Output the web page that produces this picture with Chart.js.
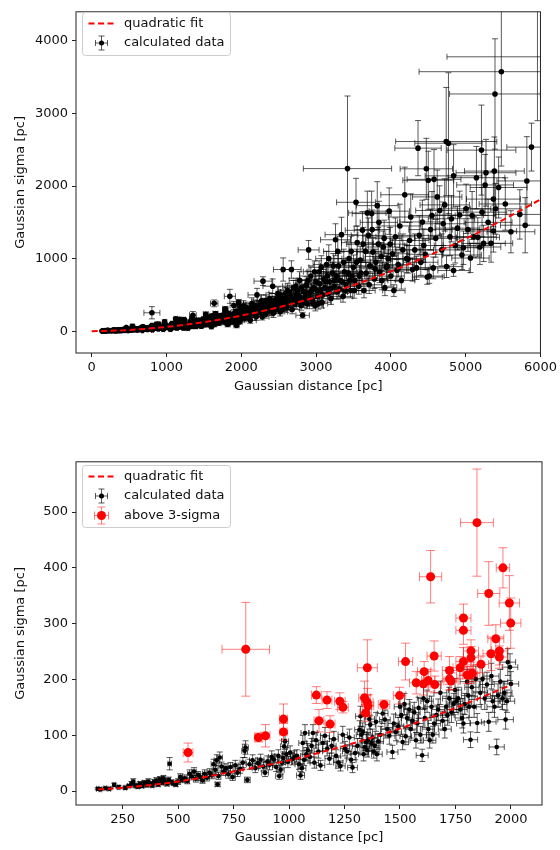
<!DOCTYPE html>
<html lang="en">
<head>
<meta charset="UTF-8">
<title>Gaussian sigma vs distance</title>
<script src="https://cdn.jsdelivr.net/npm/chart.js"></script>
<style>
  body { margin: 0; background: #fff; }
  .panel { position: absolute; left: 0; width: 560px; height: 400px; }
  #topPanel { top: 0; }
  #bottomPanel { top: 450px; }
</style>
</head>
<body>
<div class="panel" id="topPanel"><canvas id="fullChart" width="560" height="400"></canvas></div>
<div class="panel" id="bottomPanel"><canvas id="nearChart" width="560" height="400"></canvas></div>
<script>
// [distance, sigma, distance error, sigma error] in pc
const nearBlack = [
  [138,4,6,2],[150,3,6,2],[172,5,6,2],[190,4,6,2],[212,11,6,3],[232,7,6,3],[262,6,6,3],[278,9,6,3],
  [290,13,7,4],[298,17,7,5],[308,10,7,4],[318,8,7,3],[328,13,7,4],[338,9,7,3],[348,15,7,4],[358,11,7,4],
  [366,17,7,5],[375,13,7,4],[384,10,7,3],[392,16,7,5],[402,19,8,5],[410,12,8,4],[418,21,8,5],[426,15,8,4],
  [434,23,8,5],[442,17,8,5],[450,13,8,4],[458,20,8,5],[462,49,8,11],[470,16,8,4],[480,14,8,4],[490,12,8,4],
  [500,17,9,5],[510,25,9,6],[520,20,9,5],[530,23,9,6],[542,18,9,5],[552,31,9,7],[562,26,10,6],[572,35,10,7],
  [580,22,10,6],[590,29,10,6],[600,25,10,6],[610,19,10,5],[620,31,10,7],[630,24,11,6],[642,33,11,7],[652,28,11,6],
  [660,48,11,9],[668,38,11,8],[674,55,11,10],[678,12,11,4],[682,27,11,6],[688,60,12,10],[696,44,12,8],[706,35,12,7],
  [716,41,12,8],[726,30,12,7],[736,43,12,8],[746,25,12,6],[758,46,13,9],[768,33,13,7],[780,40,13,8],[792,51,13,9],
  [800,72,13,12],[804,78,13,12],[812,20,13,5],[822,48,14,9],[836,55,14,10],[848,41,14,8],[860,50,14,9],[872,56,15,10],
  [884,44,15,8],[892,33,15,7],[902,53,15,10],[912,47,15,9],[922,61,15,11],[932,56,16,10],[942,43,16,8],[952,63,16,11],
  [956,27,16,6],[962,38,16,8],[968,51,16,10],[974,59,16,11],[978,80,16,13],[982,89,16,14],[988,66,17,12],[995,52,17,10]
];

const midBlack = [
  [1005,69,17,12],[1015,57,17,10],[1025,61,17,11],[1035,63,17,11],[1045,48,18,9],[1052,28,18,7],[1058,41,18,8],[1062,86,18,14],
  [1068,56,18,10],[1072,104,18,15],[1078,66,18,12],[1085,73,18,12],[1094,61,19,11],[1102,81,19,13],[1108,104,19,15],[1114,51,19,10],
  [1122,91,19,14],[1132,71,19,12],[1142,46,19,9],[1152,86,20,14],[1162,99,20,15],[1172,76,20,13],[1182,58,20,10],[1192,81,20,13],
  [1202,93,20,14],[1212,63,21,11],[1222,51,21,10],[1232,45,21,9],[1242,101,21,15],[1252,76,21,13],[1262,71,21,12],[1272,96,22,15],
  [1280,56,22,10],[1286,42,22,9],[1298,68,22,12],[1308,81,22,13],[1318,110,22,16],[1322,134,22,18],[1326,101,23,15],[1332,106,23,16],
  [1336,66,23,12],[1342,79,23,13],[1348,88,23,14],[1352,73,23,12],[1356,91,23,14],[1362,129,23,18],[1366,119,23,17],[1372,86,23,14],
  [1376,96,23,15],[1382,71,24,12],[1386,81,24,13],[1392,124,24,17],[1396,66,24,12],[1402,89,24,14],[1412,101,24,15],[1422,139,24,18],
  [1432,128,24,17],[1442,111,25,16],[1452,99,25,15],[1466,70,25,12],[1472,121,25,17],[1482,106,25,16],[1492,116,25,16],[1500,151,26,19],
  [1506,136,26,18],[1512,88,26,14],[1520,156,26,19],[1526,98,26,15],[1532,131,26,17],[1542,146,26,18],[1548,111,26,16],[1556,126,27,17],
  [1564,141,27,18],[1572,91,27,14],[1578,121,27,17],[1584,149,27,19],[1592,101,27,15],[1600,64,27,11],[1606,166,28,20],[1612,131,28,17],
  [1622,161,28,20],[1628,111,28,16],[1634,91,28,14],[1642,151,28,19],[1648,101,28,15],[1654,121,29,17],[1664,136,29,18],[1672,146,29,19],
  [1682,176,29,21],[1692,126,29,17],[1702,111,29,16],[1708,151,30,19],[1714,136,30,18],[1722,166,30,20],[1732,141,30,18],[1742,156,30,19],
  [1748,181,30,21],[1754,161,30,20],[1762,166,31,20],[1772,146,31,19],[1780,131,31,18],[1786,121,31,17],[1792,156,31,19],[1802,196,31,22],
  [1808,171,31,21],[1812,151,32,19],[1818,92,32,14],[1824,186,32,22],[1834,151,32,19],[1842,201,32,23],[1848,122,32,17],[1862,176,33,21],
  [1872,201,33,23],[1882,166,33,20],[1892,191,33,22],[1900,124,33,17],[1912,206,34,23],[1918,161,34,20],[1926,151,34,19],[1936,79,34,14],
  [1942,171,34,21],[1952,196,34,22],[1962,166,35,20],[1970,176,35,21],[1976,128,35,17],[1982,161,35,20],[1986,231,35,24],[1996,222,35,24],
  [2000,192,35,22]
];

const redPoints = [
  [805,254,107,84],[545,69,22,17],[862,96,16,8],[894,99,20,20],[975,129,18,27],[975,106,16,15],[1123,172,22,15],
  [1135,126,22,20],[1171,163,22,15],[1185,120,22,15],[1229,161,24,15],[1243,150,24,10],[1353,221,45,50],[1340,167,26,30],
  [1353,159,26,25],[1356,153,26,20],[1345,140,26,15],[1428,155,26,8],[1498,171,28,15],[1525,232,32,33],[1573,194,30,20],
  [1609,214,30,18],[1606,192,30,20],[1627,198,30,20],[1638,384,50,47],[1654,242,32,27],[1657,191,30,15],[1723,216,32,25],
  [1723,201,32,20],[1730,197,32,15],[1771,221,32,20],[1786,310,34,25],[1786,288,34,25],[1786,232,34,25],[1803,208,34,15],
  [1815,208,34,15],[1820,251,34,20],[1820,239,34,20],[1826,211,34,15],[1847,481,74,96],[1865,227,34,15],[1900,354,50,57],
  [1910,246,36,30],[1932,273,36,25],[1948,251,36,25],[1948,240,36,20],[1964,400,30,36],[1993,337,46,49],[1999,301,46,45]
];

// sources beyond 2 kpc, only in the full-range panel
const farPoints = [
  [2010,300,90,60],[2020,260,90,60],[2030,350,95,70],[2040,180,80,50],[2050,240,90,50],[2060,330,100,70],[2070,270,90,55],
  [2080,220,90,50],[2090,190,90,45],[2100,290,100,60],[2110,230,90,50],[2120,150,80,40],[2130,320,100,65],[2140,380,110,80],
  [2150,270,95,55],[2160,240,90,55],[2170,360,105,70],[2180,300,100,60],[2190,330,100,60],[2200,200,90,50],[2210,500,120,90],
  [2220,260,95,55],[2230,350,100,70],[2240,290,100,55],[2250,260,90,60],[2260,330,100,65],[2270,420,110,80],[2280,200,90,45],
  [2290,690,120,60],[2300,310,100,60],[2310,380,105,75],[2320,230,90,50],[2330,420,110,80],[2340,380,110,70],[2350,310,100,60],
  [2360,280,100,60],[2370,360,110,70],[2380,450,120,80],[2390,400,110,75],[2400,330,100,70],[2410,270,100,55],[2420,620,130,100],
  [2430,250,90,60],[2440,350,105,70],[2450,400,110,80],[2460,440,115,80],[2470,300,100,60],[2480,420,115,80],[2490,520,120,90],
  [2500,360,110,70],[2510,400,115,75],[2520,270,100,60],[2530,480,120,90],[2540,450,120,80],[2550,300,105,60],[2560,850,130,160],
  [2570,380,110,70],[2580,400,115,75],[2590,520,125,90],[2600,320,100,60],[2610,460,120,85],[2620,560,130,100],[2630,360,110,70],
  [2640,420,120,80],[2650,540,125,95],[2660,480,120,90],[2670,850,130,120],[2680,300,100,60],[2690,450,120,80],[2700,600,130,100],
  [2710,420,120,80],[2720,380,110,70],[2730,620,135,110],[2740,500,120,90],[2750,560,130,100],[2760,420,120,80],[2770,480,125,90],
  [2780,700,140,120],[2790,460,125,85],[2800,350,110,60],[2810,600,135,110],[2820,220,90,40],[2830,550,130,100],[2840,400,120,75],
  [2850,460,120,80],[2860,520,130,95],[2870,640,140,110],[2880,380,110,70],[2890,700,145,130],[2900,1120,140,130],[2910,520,130,90],
  [2920,450,125,85],[2930,760,150,140],[2940,560,135,100],[2950,430,120,80],[2960,380,120,70],[2970,600,140,110],[2980,820,150,150],
  [2990,350,110,70],[3000,680,150,120],[3010,560,140,100],[3020,480,130,90],[3030,380,125,75],[3040,820,160,150],[3050,650,150,120],
  [3060,560,140,100],[3070,880,165,160],[3080,400,120,80],[3090,500,135,95],[3100,720,160,130],[3120,600,150,110],[3130,680,155,125],
  [3140,920,180,180],[3150,760,160,140],[3160,520,140,90],[3170,1000,175,190],[3180,680,160,120],[3190,580,145,110],[3200,450,130,80],
  [3220,800,170,150],[3230,900,170,170],[3240,620,150,110],[3250,700,160,130],[3260,1260,200,220],[3270,760,165,140],[3280,540,140,100],
  [3290,1100,190,210],[3300,900,180,170],[3310,580,150,110],[3320,700,170,130],[3340,1330,220,240],[3350,680,160,125],[3360,480,130,80],
  [3370,950,180,180],[3380,820,180,150],[3390,560,150,100],[3400,640,160,120],[3420,2240,590,1000],[3430,800,175,150],[3440,1000,200,200],
  [3450,700,170,130],[3460,560,150,100],[3470,1100,195,210],[3480,760,170,140],[3500,880,190,170],[3510,560,155,105],[3520,700,170,130],
  [3534,1776,260,330],[3540,950,190,180],[3550,1220,210,230],[3570,620,160,110],[3580,760,175,140],[3590,980,200,190],[3600,800,180,150],
  [3620,1390,230,260],[3630,1200,220,230],[3640,560,150,100],[3660,1100,210,210],[3670,800,180,150],[3685,1630,250,300],[3700,1320,230,240],
  [3710,640,170,120],[3720,900,190,170],[3743,1620,260,310],[3750,1400,240,270],[3760,1090,210,200],[3780,720,170,130],[3790,860,190,160],
  [3800,950,200,180],[3818,1730,280,330],[3830,1200,220,230],[3840,1500,250,290],[3850,820,180,150],[3870,1030,210,190],[3880,700,180,130],
  [3898,1160,220,220],[3910,1280,230,250],[3920,600,160,110],[3940,880,190,160],[3950,900,200,170],[3964,1000,200,190],[3978,1654,270,320],
  [3990,1200,225,230],[4000,760,180,140],[4022,1067,230,200],[4040,560,150,80],[4060,1300,260,260],[4080,840,200,150],
  [4098,918,210,170],[4120,1450,280,300],[4140,700,180,120],[4160,1120,240,220],[4186,1880,320,380],[4210,1000,220,190],
  [4230,990,230,190],[4250,1250,260,250],[4266,1573,300,320],[4290,850,210,160],[4320,1120,250,220],[4343,872,220,160],
  [4363,2522,310,380],[4380,1320,280,270],[4400,950,230,180],[4421,1505,300,300],[4440,1180,260,230],[4460,1060,240,210],
  [4474,2237,350,420],[4487,746,200,100],[4500,2080,340,400],[4513,760,200,100],[4530,1400,290,280],[4550,1595,310,330],
  [4567,872,220,150],[4577,2092,360,410],[4600,1280,280,260],[4620,1850,330,370],[4652,1663,320,340],[4680,1120,260,220],
  [4700,1480,300,300],[4720,1740,330,360],[4744,890,220,150],[4740,2613,676,745],[4770,2590,450,970],[4790,1300,290,260],
  [4810,1550,310,320],[4838,836,210,80],[4838,2140,380,430],[4860,1180,280,240],[4890,1420,300,300],[4920,1600,320,330],
  [4950,1050,260,200],[4970,1150,270,230],[5006,1686,330,340],[5030,1400,300,300],[5064,1008,250,200],[5086,1595,320,330],
  [5110,1300,300,280],[5144,2115,380,430],[5162,1293,290,270],[5190,1160,280,240],[5211,2495,460,620],[5219,1640,330,340],
  [5240,1210,290,250],[5260,2015,380,420],[5272,2183,400,460],[5300,1500,320,320],[5339,1211,290,260],[5371,1820,360,380],
  [5371,1380,310,290],[5384,2206,400,470],[5392,3268,607,760],[5400,1686,340,350],[5441,1980,380,420],[5477,3575,1100,1300],
  [5530,1753,350,360],[5605,1370,320,290],[5724,1609,340,340],[5796,1460,330,380],[5818,2070,400,610],[5880,2536,330,330],
  [6300,3780,1550,800],[5960,4600,800,1700]
];

// quadratic fit curves, sampled
const fitFullX = [0, 500, 1000, 1500, 2000, 2500, 3000, 3500, 4000, 4500, 5000, 5500, 6000];
const fitFullY = [0, 17, 59, 125, 215, 330, 470, 635, 825, 1040, 1275, 1535, 1815];
const fitNearX = [140, 250, 500, 750, 1000, 1250, 1500, 1750, 2000];
const fitNearY = [3, 6, 17, 35, 55, 81, 112, 149, 190];

// axis ranges and tick labels
const fullXTicks = [0, 1000, 2000, 3000, 4000, 5000, 6000];
const fullYTicks = [0, 1000, 2000, 3000, 4000];
const nearXTicks = [250, 500, 750, 1000, 1250, 1500, 1750, 2000];
const nearYTicks = [0, 100, 200, 300, 400, 500];

const FONT = { family: 'DejaVu Sans', size: 13 };
const INK = '#111';
const BLACK_ERR = 'rgba(0,0,0,0.65)';
const RED_ERR = 'rgba(255,0,0,0.5)';

Chart.defaults.font.family = FONT.family;
Chart.defaults.font.size = FONT.size;
Chart.defaults.color = INK;

const toPoints = rows => rows.map(([x, y, ex, ey]) => ({ x, y, ex, ey }));
const toCurve = (xs, ys) => xs.map((x, i) => ({ x, y: ys[i] }));

// draws x/y error bars with caps underneath each scatter dataset
const errorBars = {
  id: 'errorBars',
  beforeDatasetDraw(chart, args) {
    const ds = chart.data.datasets[args.index];
    if (!ds.errorColor) return;
    const { ctx, chartArea: a, scales: { x, y } } = chart;
    const cap = ds.capSize;
    ctx.save();
    ctx.beginPath();
    ctx.rect(a.left, a.top, a.right - a.left, a.bottom - a.top);
    ctx.clip();
    ctx.strokeStyle = ds.errorColor;
    ctx.lineWidth = 1;
    ds.data.forEach(p => {
      const px = x.getPixelForValue(p.x), py = y.getPixelForValue(p.y);
      const x0 = x.getPixelForValue(p.x - p.ex), x1 = x.getPixelForValue(p.x + p.ex);
      const y0 = y.getPixelForValue(p.y - p.ey), y1 = y.getPixelForValue(p.y + p.ey);
      ctx.beginPath();
      ctx.moveTo(x0, py); ctx.lineTo(x1, py);
      ctx.moveTo(x0, py - cap); ctx.lineTo(x0, py + cap);
      ctx.moveTo(x1, py - cap); ctx.lineTo(x1, py + cap);
      ctx.moveTo(px, y0); ctx.lineTo(px, y1);
      ctx.moveTo(px - cap, y0); ctx.lineTo(px + cap, y0);
      ctx.moveTo(px - cap, y1); ctx.lineTo(px + cap, y1);
      ctx.stroke();
    });
    ctx.restore();
  }
};

// axes box on all four sides
const frame = {
  id: 'frame',
  afterDatasetsDraw(chart) {
    const { ctx, chartArea: a } = chart;
    ctx.save();
    ctx.strokeStyle = '#222';
    ctx.lineWidth = 1;
    ctx.strokeRect(a.left, a.top, a.right - a.left, a.bottom - a.top);
    ctx.restore();
  }
};

function drawErrGlyph(ctx, cx, cy, color, barColor, r, hx, hy, cap) {
  ctx.strokeStyle = barColor;
  ctx.lineWidth = 1;
  ctx.beginPath();
  ctx.moveTo(cx - hx, cy); ctx.lineTo(cx + hx, cy);
  ctx.moveTo(cx - hx, cy - cap); ctx.lineTo(cx - hx, cy + cap);
  ctx.moveTo(cx + hx, cy - cap); ctx.lineTo(cx + hx, cy + cap);
  ctx.moveTo(cx, cy - hy); ctx.lineTo(cx, cy + hy);
  ctx.moveTo(cx - cap, cy - hy); ctx.lineTo(cx + cap, cy - hy);
  ctx.moveTo(cx - cap, cy + hy); ctx.lineTo(cx + cap, cy + hy);
  ctx.stroke();
  ctx.fillStyle = color;
  ctx.beginPath();
  ctx.arc(cx, cy, r, 0, Math.PI * 2);
  ctx.fill();
}

// legend box in the upper left corner of the axes
function makeLegend(box) {
  return {
    id: 'boxLegend',
    afterDraw(chart) {
      const ctx = chart.ctx;
      ctx.save();
      ctx.fillStyle = 'rgba(255,255,255,0.8)';
      ctx.strokeStyle = '#cccccc';
      ctx.lineWidth = 1;
      ctx.beginPath();
      ctx.roundRect(box.left, box.top, box.width, box.height, 3);
      ctx.fill();
      ctx.stroke();
      box.entries.forEach((e, i) => {
        const cy = box.top + box.firstRow + i * box.rowGap;
        const cx = box.left + 19;
        if (e.kind === 'fit') {
          ctx.strokeStyle = 'red';
          ctx.lineWidth = 2;
          ctx.setLineDash([6, 3.5]);
          ctx.beginPath();
          ctx.moveTo(box.left + 6, cy);
          ctx.lineTo(box.left + 32, cy);
          ctx.stroke();
          ctx.setLineDash([]);
        } else if (e.kind === 'black') {
          drawErrGlyph(ctx, cx, cy, '#000', BLACK_ERR, 2.5, 6, 7, 3);
        } else {
          drawErrGlyph(ctx, cx, cy, 'red', RED_ERR, 4.5, 7, 8.5, 4);
        }
        ctx.fillStyle = INK;
        ctx.font = '13px "DejaVu Sans"';
        ctx.textBaseline = 'middle';
        ctx.textAlign = 'left';
        ctx.fillText(e.label, box.left + 41.5, cy);
      });
      ctx.restore();
    }
  };
}

function axes(range, ticks, title, xHeight, titlePad) {
  const tickFont = { family: FONT.family, size: FONT.size };
  const base = {
    type: 'linear',
    min: range[0],
    max: range[1],
    afterBuildTicks: s => { s.ticks = ticks[0].map(v => ({ value: v })); },
    grid: { drawOnChartArea: false, drawTicks: true, tickLength: 4, color: '#222' },
    border: { display: false },
    ticks: { font: tickFont, color: INK, padding: 3, maxRotation: 0, autoSkip: false, callback: v => String(v) },
    title: { display: true, text: title[0], font: tickFont, color: INK, padding: { top: 0, bottom: titlePad[0] } },
    afterFit: s => { s.height = xHeight; }
  };
  const left = {
    type: 'linear',
    min: range[2],
    max: range[3],
    afterBuildTicks: s => { s.ticks = ticks[1].map(v => ({ value: v })); },
    grid: { drawOnChartArea: false, drawTicks: true, tickLength: 4, color: '#222' },
    border: { display: false },
    ticks: { font: tickFont, color: INK, padding: 4, autoSkip: false, callback: v => String(v) },
    title: { display: true, text: title[1], font: tickFont, color: INK, padding: { top: titlePad[1], bottom: 0 } },
    afterFit: s => { s.width = 76; }
  };
  return { x: base, y: left };
}

function fitDataset(xs, ys) {
  return {
    label: 'quadratic fit',
    data: toCurve(xs, ys),
    showLine: true,
    borderColor: 'red',
    borderWidth: 2,
    borderDash: [6, 3.5],
    pointRadius: 0,
    tension: 0.4,
    cubicInterpolationMode: 'monotone'
  };
}

// full distance range
new Chart(document.getElementById('fullChart'), {
  type: 'scatter',
  data: {
    datasets: [
      fitDataset(fitFullX, fitFullY),
      {
        label: 'calculated data',
        data: toPoints(nearBlack.concat(midBlack, redPoints, farPoints)),
        pointRadius: 2.8,
        pointBackgroundColor: '#000',
        pointBorderWidth: 0,
        errorColor: BLACK_ERR,
        capSize: 3
      }
    ]
  },
  options: {
    responsive: false,
    animation: false,
    devicePixelRatio: 1,
    events: [],
    layout: { padding: { top: 6, right: 18, left: 0, bottom: 0 } },
    plugins: { legend: { display: false }, tooltip: { enabled: false } },
    scales: axes([-210, 6000, -300, 4400], [fullXTicks, fullYTicks],
      ['Gaussian distance [pc]', 'Gaussian sigma [pc]'], 47, [5.5, 13])
  },
  plugins: [errorBars, frame, makeLegend({
    left: 82.5, top: 12.5, width: 148, height: 43, firstRow: 11, rowGap: 19.5,
    entries: [{ kind: 'fit', label: 'quadratic fit' }, { kind: 'black', label: 'calculated data' }]
  })]
});

// distances below 2 kpc with 3-sigma outliers
new Chart(document.getElementById('nearChart'), {
  type: 'scatter',
  data: {
    datasets: [
      fitDataset(fitNearX, fitNearY),
      {
        label: 'above 3-sigma',
        data: toPoints(redPoints),
        pointRadius: 4.5,
        pointBackgroundColor: 'red',
        pointBorderWidth: 0,
        errorColor: RED_ERR,
        capSize: 4.5
      },
      {
        label: 'calculated data',
        data: toPoints(nearBlack.concat(midBlack)),
        pointRadius: 2.3,
        pointBackgroundColor: '#000',
        pointBorderWidth: 0,
        errorColor: BLACK_ERR,
        capSize: 3
      }
    ]
  },
  options: {
    responsive: false,
    animation: false,
    devicePixelRatio: 1,
    events: [],
    layout: { padding: { top: 9, right: 18, left: 0, bottom: 0 } },
    plugins: { legend: { display: false }, tooltip: { enabled: false } },
    scales: axes([40, 2140, -25, 590], [nearXTicks, nearYTicks],
      ['Gaussian distance [pc]', 'Gaussian sigma [pc]'], 45, [4.5, 13])
  },
  plugins: [errorBars, frame, makeLegend({
    left: 82.5, top: 15.5, width: 148, height: 62, firstRow: 11, rowGap: 19.5,
    entries: [
      { kind: 'fit', label: 'quadratic fit' },
      { kind: 'black', label: 'calculated data' },
      { kind: 'red', label: 'above 3-sigma' }
    ]
  })]
});
</script>
</body>
</html>
